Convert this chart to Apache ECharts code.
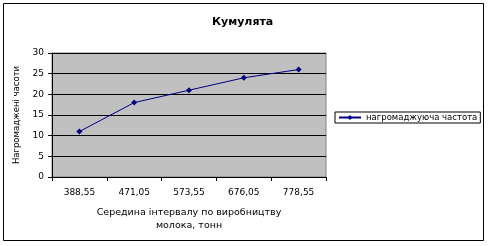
<!DOCTYPE html>
<html><head><meta charset="utf-8">
<script src="https://cdn.jsdelivr.net/npm/echarts@6/dist/echarts.min.js"></script>
<style>html,body{margin:0;padding:0;background:#fff}#c{width:489px;height:246px}</style>
</head><body><div id="c"></div>
<script>
const categories = ['388,55','471,05','573,55','676,05','778,55'];
const cumulative = [11, 18, 21, 24, 26];
const seriesName = 'нагромаджуюча частота';
const yTicks = {min: 0, max: 30, interval: 5};

const chart = echarts.init(document.getElementById('c'), null, {renderer: 'canvas'});
const font = 'DejaVu Sans, Verdana, sans-serif';
chart.setOption({
  animation: false,
  backgroundColor: '#fff',
  title: {
    text: 'Кумулята', left: 212, top: 17, padding: 0,
    textStyle: {fontFamily: font, fontSize: 11, fontWeight: 'bold', color: '#000'}
  },
  graphic: [{
    type: 'rect', shape: {x: 3.5, y: 3.5, width: 480, height: 237},
    style: {fill: 'none', stroke: '#000', lineWidth: 1}, silent: true
  }],
  legend: {
    data: [seriesName], left: 335, top: 112, orient: 'vertical',
    padding: [1, 3, 1, 3], itemGap: 0,
    borderColor: '#000', borderWidth: 1, backgroundColor: '#fff',
    itemWidth: 22, itemHeight: 6,
    textStyle: {fontFamily: font, fontSize: 8.5, color: '#000'}
  },
  grid: {
    left: 52, right: 163, top: 53, bottom: 69,
    show: true, backgroundColor: '#C0C0C0', borderColor: '#808080', borderWidth: 1
  },
  xAxis: {
    type: 'category', data: categories, boundaryGap: true,
    name: 'Середина інтервалу по виробництву\nмолока, тонн',
    nameLocation: 'middle', nameGap: 29,
    nameTextStyle: {fontFamily: font, fontSize: 9.5, color: '#000', lineHeight: 13},
    axisLine: {lineStyle: {color: '#000', width: 1}},
    axisTick: {show: true, alignWithLabel: false, length: 4, lineStyle: {color: '#000'}},
    axisLabel: {fontFamily: font, fontSize: 9, color: '#000', margin: 11},
    splitLine: {show: false}
  },
  yAxis: {
    type: 'value', min: yTicks.min, max: yTicks.max, interval: yTicks.interval,
    name: 'Нагромаджені часоти', nameLocation: 'middle', nameGap: 29, nameRotate: 90,
    nameTextStyle: {fontFamily: font, fontSize: 8.5, color: '#000'},
    axisLine: {show: true, lineStyle: {color: '#000', width: 1}},
    axisTick: {show: true, length: 4, lineStyle: {color: '#000'}},
    axisLabel: {fontFamily: font, fontSize: 9, color: '#000', margin: 8},
    splitLine: {show: true, lineStyle: {color: '#000', width: 1}}
  },
  series: [{
    name: seriesName, type: 'line', data: cumulative,
    symbol: 'diamond', symbolSize: 6, showSymbol: true,
    lineStyle: {color: '#000080', width: 1},
    itemStyle: {color: '#000080'}
  }]
});
</script></body></html>
